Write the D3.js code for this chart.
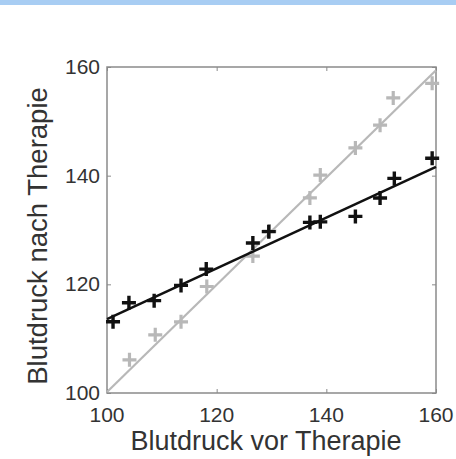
<!DOCTYPE html>
<html>
<head>
<meta charset="utf-8">
<script src="https://cdn.jsdelivr.net/npm/d3@7/dist/d3.min.js"></script>
<style>
body { margin: 0; background: #fff; }
svg text { font-family: "Liberation Sans", Arial, sans-serif; fill: #333; }
</style>
</head>
<body>
<script>
// blood pressure before (x) / after (y) therapy
var beforeBlack = [101.1, 104.0, 108.6, 113.5, 118.1, 126.6, 129.5, 137.0, 138.9, 145.3, 149.8, 152.4, 159.3];
var afterBlack  = [113.1, 116.6, 117.0, 119.8, 122.8, 127.6, 129.7, 131.4, 131.5, 132.5, 135.9, 139.5, 143.2];
var beforeGray  = [104.1, 108.8, 113.5, 118.2, 126.6, 129.6, 137.0, 138.9, 145.3, 149.8, 152.2, 159.3];
var afterGray   = [106.1, 110.7, 113.1, 119.6, 125.2, 129.8, 135.9, 140.1, 145.1, 149.3, 154.3, 157.0];
var fitX     = [100, 160];
var fitBlack = [113.6, 141.6];
var fitGray  = [100.2, 159.4];
var ticks = [100, 120, 140, 160];

var width = 456, height = 459;
var pLeft = 107, pRight = 436, pTop = 67, pBottom = 393;

var svg = d3.select("body").append("svg")
    .attr("width", width)
    .attr("height", height);

// blue strip along the top edge
svg.append("rect").attr("x", 0).attr("y", 0).attr("width", width).attr("height", 5).attr("fill", "#a8cdf3");

var x = d3.scaleLinear().domain([100, 160]).range([pLeft, pRight]);
var y = d3.scaleLinear().domain([100, 160]).range([pBottom, pTop]);

// frame
svg.append("rect")
    .attr("x", pLeft).attr("y", pTop)
    .attr("width", pRight - pLeft).attr("height", pBottom - pTop)
    .attr("fill", "none").attr("stroke", "#8a8a8a").attr("stroke-width", 1.5);

// inside ticks on all four sides
var axB = svg.append("g").attr("transform", "translate(0," + pBottom + ")")
    .call(d3.axisBottom(x).tickValues(ticks).tickSizeInner(-4).tickSizeOuter(0).tickFormat(""));
var axT = svg.append("g").attr("transform", "translate(0," + pTop + ")")
    .call(d3.axisTop(x).tickValues(ticks).tickSizeInner(-4).tickSizeOuter(0).tickFormat(""));
var axL = svg.append("g").attr("transform", "translate(" + pLeft + ",0)")
    .call(d3.axisLeft(y).tickValues(ticks).tickSizeInner(-4).tickSizeOuter(0).tickFormat(""));
var axR = svg.append("g").attr("transform", "translate(" + pRight + ",0)")
    .call(d3.axisRight(y).tickValues(ticks).tickSizeInner(-4).tickSizeOuter(0).tickFormat(""));
[axB, axT, axL, axR].forEach(function(a) {
    a.select(".domain").remove();
    a.selectAll("line").attr("stroke", "#8a8a8a");
});

// tick labels
svg.selectAll(".xl").data(ticks).enter().append("text")
    .attr("x", function(d) { return x(d); })
    .attr("y", pBottom + 29)
    .attr("text-anchor", "middle")
    .attr("font-size", 21)
    .text(function(d) { return d; });
svg.selectAll(".yl").data(ticks).enter().append("text")
    .attr("x", pLeft - 7)
    .attr("y", function(d) { return y(d) + 7; })
    .attr("text-anchor", "end")
    .attr("font-size", 21)
    .text(function(d) { return d; });

// axis titles
svg.append("text")
    .attr("x", 266).attr("y", 450)
    .attr("text-anchor", "middle")
    .attr("font-size", 27)
    .text("Blutdruck vor Therapie");
svg.append("text")
    .attr("transform", "translate(47,236) rotate(-90)")
    .attr("text-anchor", "middle")
    .attr("font-size", 27.5)
    .text("Blutdruck nach Therapie");

var line = d3.line().x(function(d) { return x(d[0]); }).y(function(d) { return y(d[1]); });

svg.append("path").attr("d", line(d3.zip(fitX, fitGray)))
    .attr("fill", "none").attr("stroke", "#b8b8b8").attr("stroke-width", 2.2);

function plus(g, xs, ys, color, w) {
    var pts = d3.zip(xs, ys);
    g.selectAll("path.m").data(pts).enter().append("path")
        .attr("class", "m")
        .attr("d", function(d) {
            var cx = x(d[0]), cy = y(d[1]), s = 7;
            return "M" + (cx - s) + "," + cy + "H" + (cx + s) + "M" + cx + "," + (cy - s) + "V" + (cy + s);
        })
        .attr("stroke", color).attr("stroke-width", w).attr("fill", "none");
}

plus(svg.append("g"), beforeGray, afterGray, "#b8b8b8", 3.2);

svg.append("path").attr("d", line(d3.zip(fitX, fitBlack)))
    .attr("fill", "none").attr("stroke", "#111").attr("stroke-width", 2.5);

plus(svg.append("g"), beforeBlack, afterBlack, "#111", 3.4);
</script>
</body>
</html>
